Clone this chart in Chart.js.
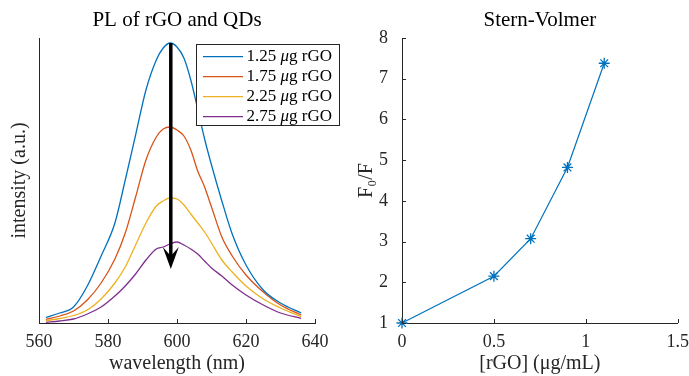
<!DOCTYPE html>
<html><head><meta charset="utf-8">
<script src="https://cdn.jsdelivr.net/npm/chart.js@4"></script>
<style>
html,body{margin:0;padding:0;background:#fff;width:689px;height:376px;overflow:hidden}
canvas{position:absolute;top:0}
#c1{left:0}
#c2{left:345px}
</style></head><body>
<canvas id="c1" width="345" height="376"></canvas>
<canvas id="c2" width="344" height="376"></canvas>
<script>
// ---------- data ----------
const wavelength = [562,566,570,574,578,582,585,588,591,594,596,598,600,602,604,606,608,610,613,616,620,625,630,636];
const pl125 = [5.5,10,16,37,67,100,143,188,233,263,275,280,276,265,243,214,184,158,122,89,58,33,20,10];
const pl175 = [3.7,7,12,23,40,64,90,126,163,186,194,196,193,187,173,152,136,116,86,67,48,31,18,8];
const pl225 = [2.3,4.5,7.5,13,24,40,56,78,100,117,122,125,124,118,109,100,91,80,63,51,37,24,15,6.3];
const pl275 = [0.7,2,4,9,16,27,37,49,63,74,76,79,81,78,74,69,62,55,47,38,28,18,10,4.7];
const seriesLabels = ['1.25 μg rGO','1.75 μg rGO','2.25 μg rGO','2.75 μg rGO'];
const arrowWavelength = 598.2;
const arrowFrom = 280;
const arrowTo = 54;

const rgoConc = [0,0.5,0.7,0.9,1.1];
const f0OverF = [1,2.15,3.07,4.82,7.38];

const plXTicks = [560,580,600,620,640];
const svXTicks = [0,0.5,1,1.5];
const svYTicks = [1,2,3,4,5,6,7,8];

// ---------- styling ----------
const FONT = "'Liberation Serif','Times New Roman',serif";
const AX = '#262626';
const COLORS = ['#0072BD','#D95319','#EDB120','#7E2F8E'];

const decor = {
  id: 'decor',
  afterDraw(chart, args, o) {
    const ctx = chart.ctx, a = chart.chartArea;
    const xs = chart.scales.x, ys = chart.scales.y;
    ctx.save();
    // inward tick marks
    ctx.strokeStyle = AX; ctx.lineWidth = 1;
    xs.ticks.forEach(t => {
      const px = Math.round(xs.getPixelForValue(t.value)) + 0.5;
      ctx.beginPath(); ctx.moveTo(px, a.bottom); ctx.lineTo(px, a.bottom - o.tickLen); ctx.stroke();
    });
    if (o.yTicks) {
      ys.ticks.forEach(t => {
        const py = Math.round(ys.getPixelForValue(t.value)) + 0.5;
        ctx.beginPath(); ctx.moveTo(a.left, py); ctx.lineTo(a.left + o.tickLen, py); ctx.stroke();
      });
    }
    // title
    ctx.fillStyle = '#000';
    ctx.font = '21px ' + FONT;
    ctx.textAlign = 'center'; ctx.textBaseline = 'middle';
    ctx.fillText(o.title, (a.left + a.right) / 2, o.titleY);
    // arrow
    if (o.arrow) {
      const ax = xs.getPixelForValue(o.arrow.x);
      const y0 = ys.getPixelForValue(o.arrow.from);
      const y1 = ys.getPixelForValue(o.arrow.to);
      ctx.strokeStyle = '#000'; ctx.lineWidth = 3.5;
      ctx.beginPath(); ctx.moveTo(ax, y0); ctx.lineTo(ax, y1 - 12); ctx.stroke();
      ctx.fillStyle = '#000';
      ctx.beginPath();
      ctx.moveTo(ax, y1);
      ctx.lineTo(ax - 8, y1 - 22);
      ctx.lineTo(ax, y1 - 13);
      ctx.lineTo(ax + 8, y1 - 22);
      ctx.closePath(); ctx.fill();
    }
    // legend
    if (o.legend) {
      const L = o.legend;
      ctx.fillStyle = '#fff';
      ctx.fillRect(L.x, L.y, L.w, L.h);
      ctx.strokeStyle = AX; ctx.lineWidth = 1;
      ctx.strokeRect(L.x, L.y, L.w, L.h);
      chart.data.datasets.forEach((ds, i) => {
        const ry = L.y + L.first + i * L.step;
        ctx.strokeStyle = ds.borderColor; ctx.lineWidth = 1.3;
        ctx.beginPath(); ctx.moveTo(L.x + 6.5, ry); ctx.lineTo(L.x + 46.5, ry); ctx.stroke();
        ctx.fillStyle = '#000'; ctx.textAlign = 'left'; ctx.textBaseline = 'middle';
        const parts = ds.label.split('μ');
        let tx = L.x + 50;
        ctx.font = '17px ' + FONT;
        ctx.fillText(parts[0], tx, ry); tx += ctx.measureText(parts[0]).width;
        if (parts.length > 1) {
          ctx.font = 'italic 17px ' + FONT;
          ctx.fillText('μ', tx, ry); tx += ctx.measureText('μ').width;
          ctx.font = '17px ' + FONT;
          ctx.fillText(parts[1], tx, ry);
        }
      });
    }
    ctx.restore();
  }
};

const tickFont = { family: FONT, size: 18 };
const labFont = { family: FONT, size: 20 };
const plainNum = v => String(v);

// ---------- left chart ----------
const plSeries = [pl125, pl175, pl225, pl275];
new Chart(document.getElementById('c1'), {
  type: 'line',
  data: {
    datasets: plSeries.map((s, i) => ({
      label: seriesLabels[i],
      data: wavelength.map((w, j) => ({ x: w, y: s[j] })),
      borderColor: COLORS[i], backgroundColor: COLORS[i],
      borderWidth: 1.3, pointRadius: 0, cubicInterpolationMode: 'monotone', fill: false
    }))
  },
  options: {
    responsive: false, animation: false,
    layout: { padding: { top: 38, right: 30, left: 0, bottom: 0 } },
    plugins: {
      legend: { display: false }, tooltip: { enabled: false }, title: { display: false },
      decor: {
        title: 'PL of rGO and QDs', titleY: 20, tickLen: 4, yTicks: false,
        arrow: { x: arrowWavelength, from: arrowFrom, to: arrowTo },
        legend: { x: 196.5, y: 44.5, w: 143, h: 81, first: 12.2, step: 20 }
      }
    },
    scales: {
      x: {
        type: 'linear', min: 560, max: 640,
        afterBuildTicks: s => { s.ticks = plXTicks.map(v => ({ value: v })); },
        afterFit: s => { s.height = 53; },
        grid: { display: false },
        border: { display: true, color: AX, width: 1 },
        ticks: { font: tickFont, color: AX, padding: 0, maxRotation: 0, callback: plainNum },
        title: { display: true, text: 'wavelength (nm)', font: labFont, color: AX, padding: { top: 0, bottom: 0 } }
      },
      y: {
        type: 'linear', min: 0, max: 285,
        afterFit: s => { s.width = 39; },
        grid: { display: false },
        border: { display: true, color: AX, width: 1 },
        ticks: { display: false },
        title: { display: true, text: 'intensity (a.u.)', font: labFont, color: AX, padding: { top: 8, bottom: 0 } }
      }
    }
  },
  plugins: [decor]
});

// ---------- right chart ----------
new Chart(document.getElementById('c2'), {
  type: 'line',
  data: {
    datasets: [{
      label: 'F0/F',
      data: rgoConc.map((c, j) => ({ x: c, y: f0OverF[j] })),
      borderColor: COLORS[0], backgroundColor: COLORS[0],
      borderWidth: 1.2, tension: 0, fill: false,
      pointStyle: 'star', pointRadius: 5.5, pointBorderWidth: 1.3,
      pointBorderColor: COLORS[0], clip: false
    }]
  },
  options: {
    responsive: false, animation: false,
    layout: { padding: { top: 38, right: 11, left: 0, bottom: 0 } },
    plugins: {
      legend: { display: false }, tooltip: { enabled: false }, title: { display: false },
      decor: { title: 'Stern-Volmer', titleY: 20, tickLen: 4, yTicks: true }
    },
    scales: {
      x: {
        type: 'linear', min: 0, max: 1.5,
        afterBuildTicks: s => { s.ticks = svXTicks.map(v => ({ value: v })); },
        afterFit: s => { s.height = 53; },
        grid: { display: false },
        border: { display: true, color: AX, width: 1 },
        ticks: { font: tickFont, color: AX, padding: 0, maxRotation: 0, callback: plainNum },
        title: { display: true, text: '[rGO] (μg/mL)', font: labFont, color: AX, padding: { top: 0, bottom: 0 } }
      },
      y: {
        type: 'linear', min: 1, max: 8,
        afterBuildTicks: s => { s.ticks = svYTicks.map(v => ({ value: v })); },
        afterFit: s => { s.width = 57; },
        grid: { display: false },
        border: { display: true, color: AX, width: 1 },
        ticks: { font: tickFont, color: AX, padding: 6, callback: plainNum },
        title: { display: true, text: 'F₀/F', font: labFont, color: AX, padding: { top: 10, bottom: 0 } }
      }
    }
  },
  plugins: [decor]
});
</script>
</body></html>
